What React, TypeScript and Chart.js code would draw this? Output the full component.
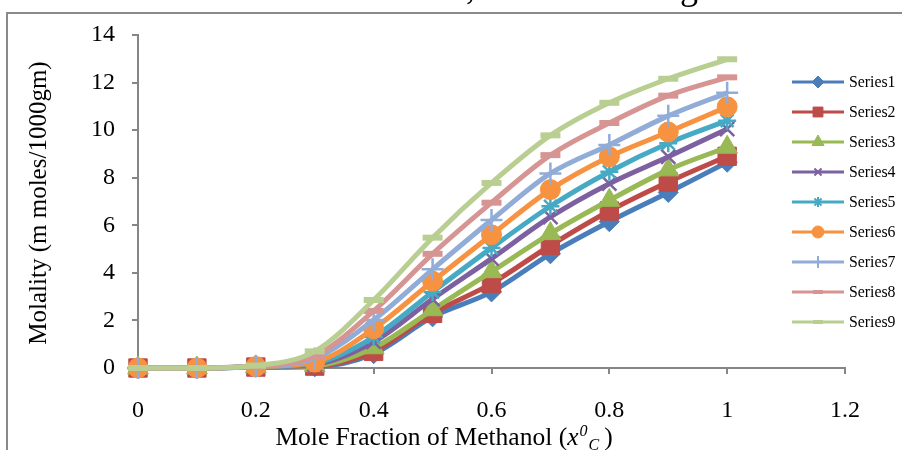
import React, { useEffect, useRef } from 'react';
import { Chart, registerables } from 'chart.js';
import { drawPoint } from 'chart.js/helpers';

Chart.register(...registerables);

const FONT = '"Liberation Serif", "Times New Roman", serif';

// x values (mole fraction of methanol)
const xValues = [0, 0.1, 0.2, 0.3, 0.4, 0.5, 0.6, 0.7, 0.8, 0.9, 1.0];

const series1 = [0, 0, 0.03, 0.05, 0.6, 2.15, 3.2, 4.8, 6.15, 7.38, 8.65];
const series2 = [0, 0, 0.04, 0.08, 0.7, 2.3, 3.55, 5.15, 6.6, 7.82, 8.9];
const series3 = [0, 0, 0.05, 0.1, 0.85, 2.45, 4.05, 5.65, 7.05, 8.33, 9.28];
const series4 = [0, 0, 0.05, 0.15, 1.1, 2.9, 4.6, 6.35, 7.75, 8.88, 10.05];
const series5 = [0, 0, 0.05, 0.2, 1.3, 3.2, 5.05, 6.8, 8.25, 9.45, 10.4];
const series6 = [0, 0, 0.06, 0.25, 1.65, 3.65, 5.6, 7.5, 8.88, 9.92, 10.98];
const series7 = [0, 0, 0.07, 0.4, 2.02, 4.15, 6.22, 8.18, 9.38, 10.6, 11.57];
const series8 = [0, 0, 0.08, 0.5, 2.4, 4.8, 6.95, 8.95, 10.3, 11.45, 12.22];
const series9 = [0, 0, 0.1, 0.7, 2.86, 5.48, 7.78, 9.78, 11.15, 12.16, 12.98];

const seriesValues = [series1, series2, series3, series4, series5, series6, series7, series8, series9];
const seriesNames = ['Series1', 'Series2', 'Series3', 'Series4', 'Series5', 'Series6', 'Series7', 'Series8', 'Series9'];
const seriesColors = ['#4A7EBB', '#BE4B48', '#98B954', '#7D60A0', '#46AAC5', '#F69240', '#91ACD6', '#D69593', '#B9CF92'];
const markerStyles = ['rectRot', 'rect', 'triangle', 'crossRot', 'star', 'circle', 'cross', 'line', 'line'];
const markerRadius = [10, 13, 12, 10, 9, 10, 11, 10, 10];
const markerBorder = [1, 1, 1, 2.5, 2.5, 1, 2.5, 6, 6];
const legendRadius = [6, 7, 7, 5, 5, 6, 6, 5, 5];
const legendBorder = [1, 1, 1, 2, 2, 1, 2, 4, 4];

const yTitle = 'Molality (m moles/1000gm)';
const xTitleMain = 'Mole Fraction of Methanol (';
const xTitleVar = 'x';
const xTitleSup = '0';
const xTitleSub = 'C';
const xTitleEnd = ')';
const titleFragA = 'Methanol in Water at 303 K,';
const titleFragB = 'Mixing';

const decorPlugin = {
  id: 'decor',
  afterDraw(chart: any) {
    const ctx = chart.ctx as CanvasRenderingContext2D;
    ctx.save();
    // outer frame (cropped)
    ctx.strokeStyle = '#8A8A8A';
    ctx.lineWidth = 2;
    ctx.beginPath();
    ctx.moveTo(7, 450);
    ctx.lineTo(7, 13);
    ctx.lineTo(902, 13);
    ctx.stroke();

    // cropped title fragments (only descenders remain visible)
    ctx.fillStyle = '#000';
    ctx.font = `36px ${FONT}`;
    ctx.textBaseline = 'alphabetic';
    ctx.textAlign = 'right';
    ctx.fillText(titleFragA, 475, -1);
    ctx.fillText(titleFragB, 698, -1);

    // y title
    ctx.save();
    ctx.translate(46, 203);
    ctx.rotate(-Math.PI / 2);
    ctx.textAlign = 'center';
    ctx.font = `25px ${FONT}`;
    ctx.fillText(yTitle, 0, 0);
    ctx.restore();

    // x title with italic super/subscript
    ctx.textAlign = 'left';
    const fMain = `25.5px ${FONT}`;
    const fIt = `italic 25.5px ${FONT}`;
    const fSmall = `italic 16px ${FONT}`;
    ctx.font = fMain;
    const w1 = ctx.measureText(xTitleMain).width;
    const wEnd = ctx.measureText(xTitleEnd).width;
    ctx.font = fIt;
    const w2 = ctx.measureText(xTitleVar).width;
    ctx.font = fSmall;
    const w3 = ctx.measureText(xTitleSup).width;
    const w4 = ctx.measureText(xTitleSub).width;
    const gap = 5;
    const total = w1 + w2 + w3 + w4 + gap + wEnd + 2;
    let x = 444 - total / 2;
    const base = 445;
    ctx.font = fMain;
    ctx.fillText(xTitleMain, x, base);
    x += w1;
    ctx.font = fIt;
    ctx.fillText(xTitleVar, x, base);
    x += w2 + 1;
    ctx.font = fSmall;
    ctx.fillText(xTitleSup, x, base - 9);
    x += w3 + 1;
    ctx.fillText(xTitleSub, x, base + 5);
    x += w4 + gap;
    ctx.font = fMain;
    ctx.fillText(xTitleEnd, x, base);

    // legend
    ctx.textBaseline = 'middle';
    ctx.font = `15.8px ${FONT}`;
    seriesNames.forEach((name, i) => {
      const y = 82 + i * 30;
      const c = seriesColors[i];
      ctx.strokeStyle = c;
      ctx.lineWidth = 3;
      ctx.beginPath();
      ctx.moveTo(792, y);
      ctx.lineTo(844, y);
      ctx.stroke();
      ctx.fillStyle = c;
      ctx.strokeStyle = c;
      ctx.lineWidth = legendBorder[i];
      drawPoint(ctx, { pointStyle: markerStyles[i], rotation: 0, radius: legendRadius[i], borderWidth: legendBorder[i] } as any, 818, y);
      ctx.fillStyle = '#000';
      ctx.fillText(name, 849, y + 1);
    });
    ctx.restore();
  },
};

export default function App() {
  const ref = useRef<HTMLCanvasElement | null>(null);
  useEffect(() => {
    document.body.style.margin = '0';
    const canvas = ref.current;
    if (!canvas) return;
    const datasets = seriesValues.map((vals, i) => ({
      label: seriesNames[i],
      data: vals.map((v, j) => ({ x: xValues[j], y: v })),
      borderColor: seriesColors[i],
      backgroundColor: seriesColors[i],
      borderWidth: 5,
      pointStyle: markerStyles[i],
      pointRadius: markerRadius[i],
      pointBorderWidth: markerBorder[i],
      pointBackgroundColor: seriesColors[i],
      pointBorderColor: seriesColors[i],
      cubicInterpolationMode: 'monotone',
      fill: false,
      clip: false,
      order: seriesValues.length - 1 - i,
    }));
    const chart = new Chart(canvas, {
      type: 'line',
      data: { datasets: datasets as any },
      options: {
        animation: false,
        responsive: false,
        devicePixelRatio: 1,
        layout: { padding: { left: 0, top: 35, right: 57, bottom: 0 } },
        plugins: { legend: { display: false }, tooltip: { enabled: false } },
        scales: {
          x: {
            type: 'linear',
            min: 0,
            max: 1.2,
            ticks: {
              stepSize: 0.2,
              color: '#000',
              font: { family: FONT, size: 24 },
              padding: 22,
              maxRotation: 0,
              callback: (v: any) => String(Math.round(Number(v) * 10) / 10),
            },
            grid: { drawOnChartArea: false, drawTicks: true, tickLength: 6, color: '#868686', lineWidth: 2 },
            border: { color: '#868686', width: 2 },
            afterFit: (s: any) => { s.height = 82; },
          },
          y: {
            min: 0,
            max: 14,
            ticks: {
              stepSize: 2,
              color: '#000',
              font: { family: FONT, size: 24 },
              padding: 17,
            },
            grid: { drawOnChartArea: false, drawTicks: true, tickLength: 6, color: '#868686', lineWidth: 2 },
            border: { color: '#868686', width: 2 },
            afterFit: (s: any) => { s.width = 138; },
          },
        },
      },
      plugins: [decorPlugin],
    });
    return () => chart.destroy();
  }, []);
  return (
    <div style={{ width: 902, height: 450, background: '#fff' }}>
      <canvas ref={ref} width={902} height={450} style={{ width: 902, height: 450, display: 'block' }} />
    </div>
  );
}
